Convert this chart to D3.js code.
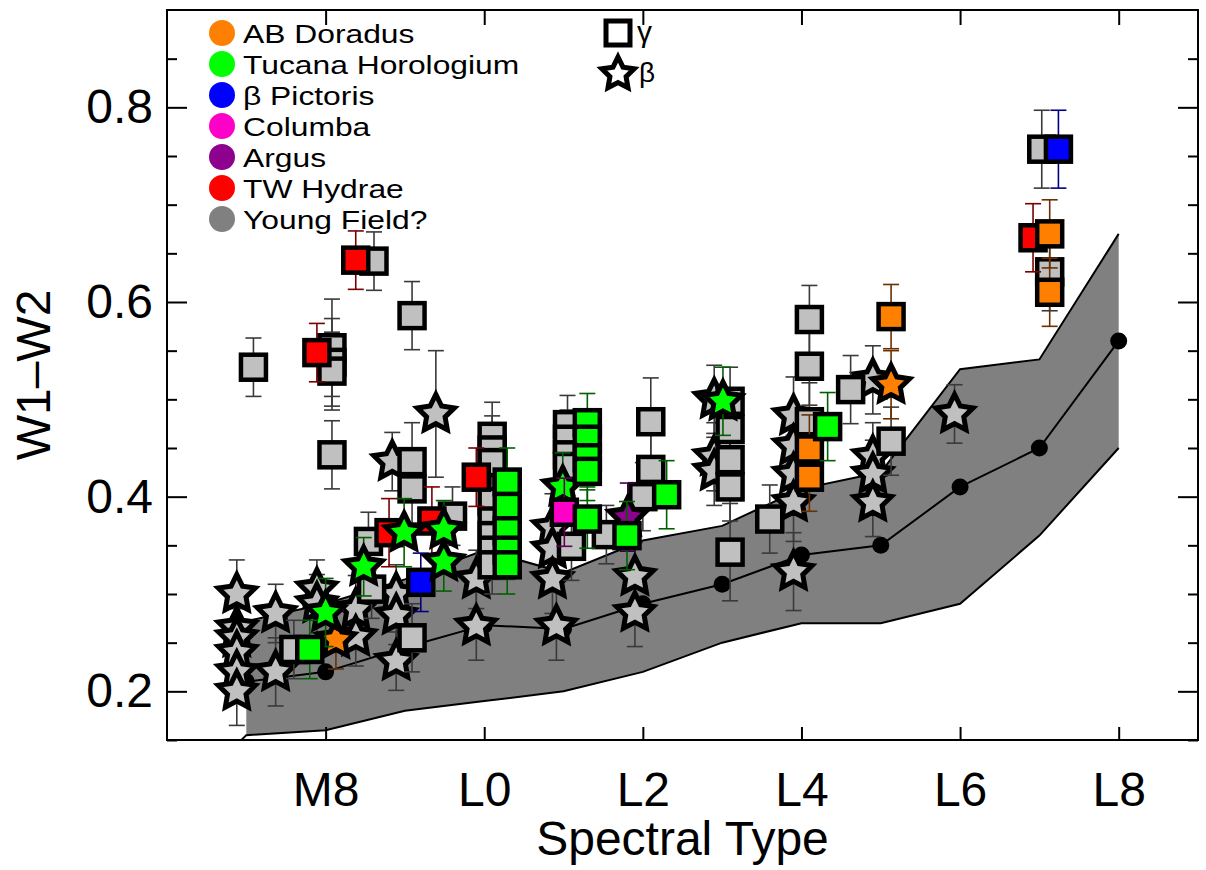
<!DOCTYPE html>
<html>
<head>
<meta charset="utf-8">
<script src="https://cdn.jsdelivr.net/npm/d3@7"></script>
<style>
  body { margin: 0; background: #fff; }
  svg text { font-family: "Liberation Sans", Arial, Helvetica, sans-serif; fill: #000; }
</style>
</head>
<body>
<svg id="chart" width="1206" height="870"></svg>
<script>
// field sequence (median and spread) per spectral type, 7 = M7 ... 18 = L8
const fieldSpt = [7, 8, 9, 10, 11, 12, 13, 14, 15, 16, 17, 18];
const fieldMid = [0.21, 0.22, 0.245, 0.268, 0.264, 0.29, 0.31, 0.34, 0.35, 0.41, 0.45, 0.56];
const fieldHi  = [0.272, 0.29, 0.315, 0.345, 0.322, 0.355, 0.37, 0.408, 0.425, 0.531, 0.541, 0.67];
const fieldLo  = [0.155, 0.16, 0.18, 0.19, 0.2, 0.22, 0.25, 0.27, 0.27, 0.29, 0.36, 0.45];

// rows: [spectral type, W1-W2, error, gravity class ("g" = gamma square, "b" = beta star)]
const youngField = [
  [7.09,0.533,0.03,"g"], [8.61,0.642,0.03,"g"],
  [8.08,0.553,0.05,"g"], [8.08,0.538,0.045,"g"], [8.08,0.529,0.04,"g"], [8.08,0.443,0.035,"g"],
  [9.09,0.586,0.035,"g"], [9.09,0.436,0.04,"g"], [9.09,0.408,0.035,"g"], [9.09,0.255,0.035,"g"],
  [7.6,0.243,0.03,"g"], [8.58,0.305,0.03,"g"], [8.54,0.354,0.03,"g"],
  [10.1,0.462,0.035,"g"], [10.1,0.448,0.035,"g"], [10.1,0.435,0.03,"g"], [10.1,0.395,0.03,"g"],
  [10.1,0.375,0.03,"g"], [10.1,0.36,0.03,"g"], [10.1,0.345,0.03,"g"], [10.1,0.33,0.03,"g"],
  [9.6,0.38,0.03,"g"],
  [11.05,0.474,0.03,"g"], [11.05,0.459,0.03,"g"], [11.05,0.443,0.03,"g"], [11.05,0.431,0.03,"g"], [11.1,0.349,0.035,"g"],
  [11.54,0.361,0.03,"g"],
  [12.1,0.477,0.045,"g"], [12.1,0.428,0.04,"g"], [12.0,0.40,0.035,"g"],
  [13.1,0.498,0.035,"g"], [13.1,0.469,0.035,"g"], [13.1,0.438,0.035,"g"], [13.1,0.41,0.035,"g"], [13.1,0.343,0.05,"g"],
  [13.6,0.377,0.035,"g"],
  [14.1,0.582,0.035,"g"], [14.1,0.534,0.04,"g"], [14.1,0.477,0.04,"g"],
  [14.62,0.51,0.035,"g"], [15.13,0.457,0.035,"g"],
  [17.03,0.757,0.04,"g"], [17.13,0.631,0.04,"g"],
  [6.88,0.30,0.035,"b"], [6.88,0.265,0.03,"b"], [6.88,0.255,0.03,"b"], [6.88,0.24,0.03,"b"], [6.88,0.22,0.03,"b"], [6.88,0.2,0.035,"b"],
  [7.37,0.28,0.03,"b"], [7.37,0.22,0.035,"b"],
  [7.89,0.305,0.03,"b"], [7.89,0.29,0.03,"b"],
  [8.38,0.284,0.035,"b"], [8.38,0.256,0.03,"b"],
  [8.89,0.30,0.03,"b"], [8.89,0.278,0.03,"b"], [8.89,0.231,0.03,"b"],
  [8.84,0.436,0.03,"b"], [9.39,0.485,0.065,"b"],
  [9.9,0.315,0.03,"b"], [9.9,0.267,0.035,"b"],
  [10.86,0.368,0.035,"b"], [10.86,0.346,0.03,"b"], [10.86,0.315,0.035,"b"], [10.91,0.267,0.035,"b"],
  [11.9,0.318,0.035,"b"], [11.9,0.281,0.035,"b"],
  [12.9,0.5,0.035,"b"], [12.9,0.441,0.035,"b"], [12.9,0.426,0.035,"b"],
  [13.9,0.483,0.04,"b"], [13.9,0.452,0.04,"b"], [13.9,0.423,0.04,"b"], [13.9,0.394,0.04,"b"], [13.9,0.323,0.04,"b"],
  [14.9,0.52,0.035,"b"], [14.9,0.441,0.035,"b"], [14.9,0.423,0.035,"b"], [14.9,0.394,0.035,"b"],
  [15.93,0.485,0.03,"b"]
];
const twHydrae = [
  [8.38,0.643,0.03,"g"], [7.89,0.548,0.03,"g"], [8.8,0.363,0.035,"g"],
  [9.34,0.375,0.035,"g"], [9.9,0.42,0.03,"g"], [16.92,0.666,0.035,"g"]
];
const abDoradus = [
  [8.13,0.253,0.03,"b"], [15.13,0.515,0.035,"b"],
  [14.1,0.449,0.035,"g"], [14.1,0.42,0.035,"g"], [15.13,0.585,0.033,"g"],
  [17.13,0.67,0.035,"g"], [17.13,0.61,0.035,"g"]
];
const betaPic = [[9.2,0.312,0.03,"g"], [17.24,0.757,0.04,"g"]];
const argus = [[11.81,0.379,0.035,"b"]];
const columba = [[11.01,0.384,0.035,"g"]];
const tucHor = [
  [8.0,0.281,0.035,"b"], [8.48,0.328,0.03,"b"], [8.99,0.363,0.035,"b"], [9.49,0.366,0.03,"b"],
  [9.49,0.333,0.03,"b"], [10.99,0.41,0.035,"b"], [13.01,0.498,0.035,"b"],
  [7.8,0.243,0.03,"g"], [10.29,0.415,0.035,"g"], [10.29,0.39,0.035,"g"], [10.29,0.365,0.035,"g"],
  [10.29,0.345,0.03,"g"], [10.29,0.33,0.03,"g"],
  [11.3,0.476,0.03,"g"], [11.3,0.459,0.03,"g"], [11.3,0.44,0.03,"g"], [11.3,0.426,0.03,"g"], [11.3,0.377,0.03,"g"],
  [11.8,0.36,0.035,"g"], [12.3,0.402,0.035,"g"], [14.33,0.472,0.035,"g"]
];

const legendNames = ["AB Doradus", "Tucana Horologium", "\u03b2 Pictoris", "Columba", "Argus", "TW Hydrae", "Young Field?"];
const legendColors = ["#ff8000", "#00ff00", "#0000ff", "#ff00c8", "#8e008e", "#ff0000", "#808080"];

const xTicks = [8, 10, 12, 14, 16, 18];
const yMajor = [0.2, 0.4, 0.6, 0.8];
const yMinor = [0.15, 0.25, 0.3, 0.35, 0.45, 0.5, 0.55, 0.65, 0.7, 0.75, 0.85];

const margin = {top: 10, right: 8, bottom: 130, left: 167};
const width = 1206, height = 870;

const svg = d3.select("#chart");

let x = d3.scaleLinear().domain([6, 19]).range([margin.left, width - margin.right]);
let y = d3.scaleLinear().domain([0.15, 0.9]).range([height - margin.bottom, margin.top]);

svg.append("clipPath").attr("id", "plotclip")
  .append("rect")
  .attr("x", margin.left).attr("y", margin.top)
  .attr("width", x.range()[1] - margin.left)
  .attr("height", y.range()[0] - margin.top);

let plot = svg.append("g").attr("clip-path", "url(#plotclip)");

// field band
let field = fieldSpt.map((s, i) => ({s: s, mid: fieldMid[i], hi: fieldHi[i], lo: fieldLo[i]}));

plot.append("path")
  .datum(field)
  .attr("fill", "#808080")
  .attr("d", d3.area().x(d => x(d.s)).y0(d => y(d.lo)).y1(d => y(d.hi)));

plot.append("path")
  .datum(field)
  .attr("fill", "none").attr("stroke", "#000").attr("stroke-width", 2)
  .attr("d", d3.line().x(d => x(d.s)).y(d => y(d.hi)));

plot.append("path")
  .datum([{s: 6.9, lo: 0.147}].concat(field))
  .attr("fill", "none").attr("stroke", "#000").attr("stroke-width", 2)
  .attr("d", d3.line().x(d => x(d.s)).y(d => y(d.lo)));

plot.append("path")
  .datum(field)
  .attr("fill", "none").attr("stroke", "#000").attr("stroke-width", 2)
  .attr("d", d3.line().x(d => x(d.s)).y(d => y(d.mid)));

plot.selectAll("circle.field")
  .data(field).enter()
  .append("circle")
  .attr("class", "field")
  .attr("cx", d => x(d.s)).attr("cy", d => y(d.mid))
  .attr("r", 8.5).attr("fill", "#000");

function starPath(R) {
  let pts = [];
  for (let i = 0; i < 10; i++) {
    let r = i % 2 == 0 ? R : R * 0.5;
    let a = -Math.PI / 2 + i * Math.PI / 5;
    pts.push([r * Math.cos(a), r * Math.sin(a)]);
  }
  return "M" + pts.map(p => p[0].toFixed(2) + "," + p[1].toFixed(2)).join("L") + "Z";
}

function draw_group(data, fill, errColor, shape) {
  let rows = data.filter(d => d[3] == shape);
  let g = plot.append("g");
  rows.forEach(d => {
    let cx = x(d[0]), top = y(d[1] + d[2]), bot = y(d[1] - d[2]);
    g.append("line").attr("x1", cx).attr("x2", cx).attr("y1", top).attr("y2", bot)
      .attr("stroke", errColor).attr("stroke-width", 1.6);
    [top, bot].forEach(yy => g.append("line")
      .attr("x1", cx - 8).attr("x2", cx + 8).attr("y1", yy).attr("y2", yy)
      .attr("stroke", errColor).attr("stroke-width", 1.6));
  });
  if (shape == "g") {
    g.selectAll("rect").data(rows).enter()
      .append("rect")
      .attr("x", d => x(d[0]) - 12.5).attr("y", d => y(d[1]) - 12.5)
      .attr("width", 25).attr("height", 25)
      .attr("fill", fill).attr("stroke", "#000").attr("stroke-width", 4.5);
  } else {
    g.selectAll("path.star").data(rows).enter()
      .append("path")
      .attr("class", "star")
      .attr("transform", d => `translate(${x(d[0])},${y(d[1])})`)
      .attr("d", starPath(19.5))
      .attr("fill", fill).attr("stroke", "#000").attr("stroke-width", 5)
      .attr("stroke-linejoin", "miter");
  }
}

draw_group(youngField, "#c0c0c0", "#3a3a3a", "b");
draw_group(youngField, "#c0c0c0", "#3a3a3a", "g");
draw_group(twHydrae, "#ff0000", "#7a0000", "g");
draw_group(abDoradus, "#ff8000", "#6a3000", "b");
draw_group(abDoradus, "#ff8000", "#6a3000", "g");
draw_group(betaPic, "#0000ff", "#000080", "g");
draw_group(argus, "#8e008e", "#400040", "b");
draw_group(tucHor, "#00ff00", "#006000", "b");
draw_group(columba, "#ff00c8", "#600050", "g");
draw_group(tucHor, "#00ff00", "#006000", "g");

// axes
function style_axis(g) {
  g.select(".domain").remove();
  g.selectAll(".tick line").attr("stroke", "#000").attr("stroke-width", 2);
  g.selectAll(".tick text").attr("font-size", 48).attr("font-family", "Liberation Sans, Arial, sans-serif").attr("fill", "#000");
}

let spt_label = v => v < 10 ? "M" + v : "L" + (v - 10);

svg.append("g")
  .attr("transform", `translate(0, ${y.range()[0]})`)
  .call(d3.axisBottom(x).tickValues(xTicks).tickFormat(spt_label).tickSizeInner(-13).tickSizeOuter(0).tickPadding(32))
  .call(style_axis);

svg.append("g")
  .attr("transform", `translate(0, ${margin.top})`)
  .call(d3.axisTop(x).tickValues(xTicks).tickFormat("").tickSizeInner(-15).tickSizeOuter(0))
  .call(style_axis);

svg.append("g")
  .attr("transform", `translate(${margin.left}, 0)`)
  .call(d3.axisLeft(y).tickValues(yMajor).tickFormat(d3.format(".1f")).tickSizeInner(-20).tickSizeOuter(0).tickPadding(14))
  .call(style_axis);

svg.append("g")
  .attr("transform", `translate(${margin.left}, 0)`)
  .call(d3.axisLeft(y).tickValues(yMinor).tickFormat("").tickSizeInner(-10).tickSizeOuter(0))
  .call(style_axis);

svg.append("g")
  .attr("transform", `translate(${x.range()[1]}, 0)`)
  .call(d3.axisRight(y).tickValues(yMajor).tickFormat("").tickSizeInner(-20).tickSizeOuter(0))
  .call(style_axis);

svg.append("g")
  .attr("transform", `translate(${x.range()[1]}, 0)`)
  .call(d3.axisRight(y).tickValues(yMinor).tickFormat("").tickSizeInner(-10).tickSizeOuter(0))
  .call(style_axis);

svg.append("rect")
  .attr("x", margin.left).attr("y", margin.top)
  .attr("width", x.range()[1] - margin.left)
  .attr("height", y.range()[0] - margin.top)
  .attr("fill", "none").attr("stroke", "#000").attr("stroke-width", 2);

svg.append("text")
  .attr("x", (margin.left + x.range()[1]) / 2).attr("y", 855)
  .attr("text-anchor", "middle").attr("font-size", 48)
  .text("Spectral Type");

svg.append("text")
  .attr("transform", "translate(50, 375) rotate(-90)")
  .attr("text-anchor", "middle").attr("font-size", 48)
  .text("W1\u2013W2");

// legend: text slightly stretched horizontally so rows keep the reference spacing
let legend = svg.append("g").attr("transform", "translate(222, 33)");
legendNames.forEach((name, i) => {
  legend.append("circle").attr("cx", 0).attr("cy", i * 31).attr("r", 13).attr("fill", legendColors[i]);
  legend.append("text")
    .attr("transform", `translate(21, ${i * 31 + 9.5}) scale(1.2, 1)`)
    .attr("font-size", 26.5).text(name);
});

svg.append("rect")
  .attr("x", 606).attr("y", 21).attr("width", 24).attr("height", 24)
  .attr("fill", "#fff").attr("stroke", "#000").attr("stroke-width", 5);
svg.append("text").attr("x", 637).attr("y", 42).attr("font-size", 30)
  .attr("font-family", "Liberation Serif, serif").text("\u03b3");
svg.append("path")
  .attr("transform", "translate(618, 74)")
  .attr("d", starPath(17))
  .attr("fill", "#fff").attr("stroke", "#000").attr("stroke-width", 5);
svg.append("text").attr("x", 639).attr("y", 82).attr("font-size", 28)
  .text("\u03b2");
</script>
</body>
</html>
